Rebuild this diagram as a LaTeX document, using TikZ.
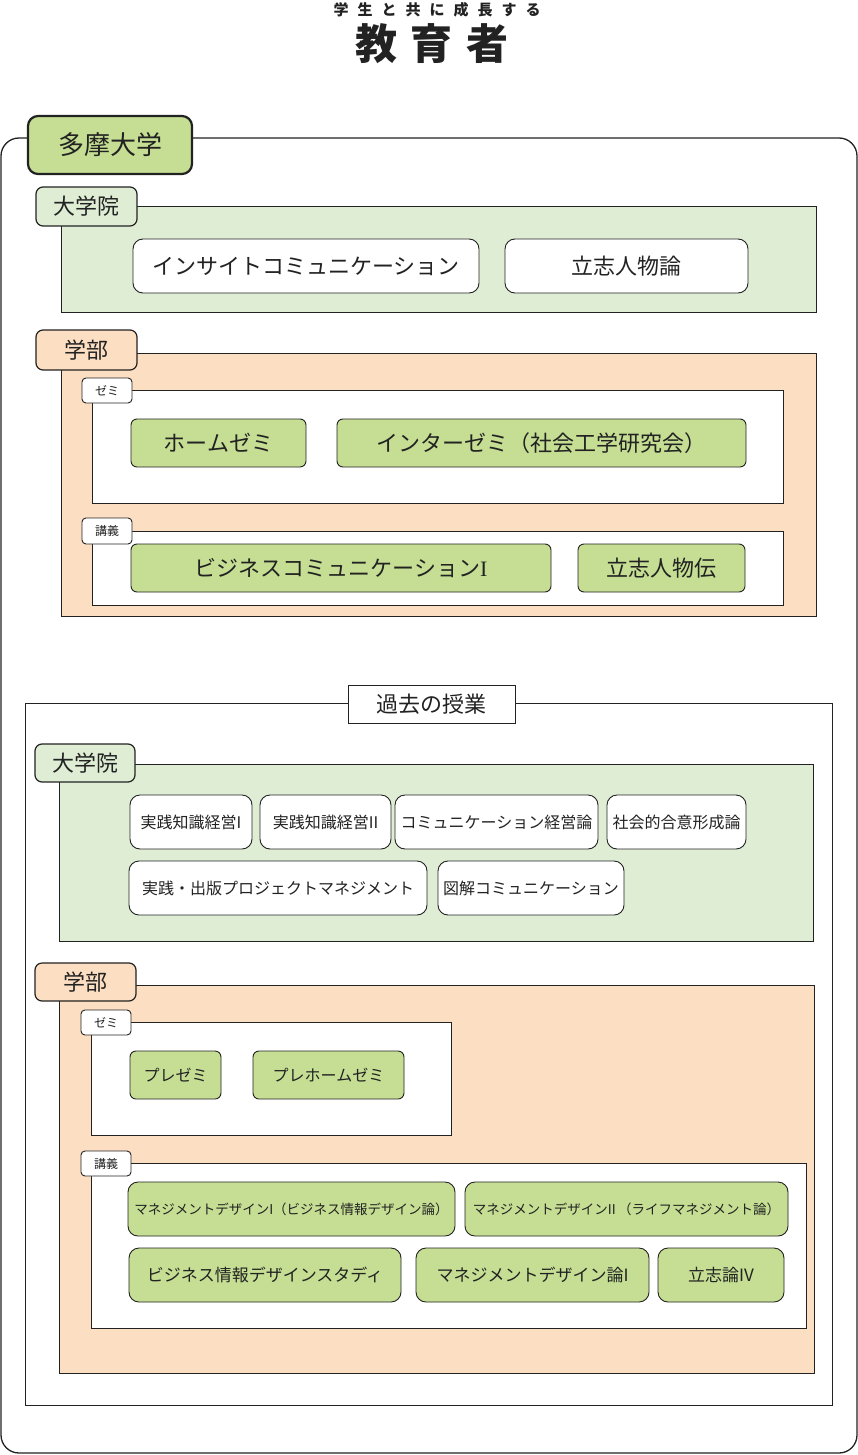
\documentclass[tikz,border=0pt]{standalone}
\usepackage{fontspec}
\setmainfont{Noto Sans CJK JP}
\definecolor{lgreen}{HTML}{DEEDD4}
\definecolor{peach}{HTML}{FCDEC2}
\definecolor{mgreen}{HTML}{C5DE93}
\definecolor{ink}{HTML}{222222}
\newcommand\mybox[7]{\node[#2,minimum width={#5pt-#3pt},minimum height={#6pt-#4pt}] (#1) at ({(#3+#5)/2},{-(#4+#6)/2}) {#7};}
\newcommand\spc[1]{\hspace{#1}}
\begin{document}
\begin{tikzpicture}[x=1pt,y=1pt,
  every node/.style={inner sep=0pt,outer sep=0pt,text=ink},
  frame/.style={draw=ink,line width=1.3pt,rounded corners=18pt},
  maintab/.style={draw=ink,line width=2.2pt,fill=mgreen,rounded corners=10pt,font=\fontsize{26}{30}\selectfont},
  gradtab/.style={draw=ink,line width=1.2pt,fill=lgreen,rounded corners=7pt,font=\fontsize{22}{26}\selectfont},
  factab/.style={draw=ink,line width=1.2pt,fill=peach,rounded corners=7pt,font=\fontsize{22}{26}\selectfont},
  gradarea/.style={draw=ink,line width=1pt,fill=lgreen},
  facarea/.style={draw=ink,line width=1pt,fill=peach},
  whitearea/.style={draw=ink,line width=0.9pt,fill=white},
  pastframe/.style={draw=ink,line width=1pt},
  smalltab/.style={draw=ink,line width=0.9pt,fill=white,rounded corners=4pt,font=\fontsize{12}{14}\selectfont},
  wbox/.style={draw=ink,line width=0.9pt,fill=white,rounded corners=10pt},
  gbox/.style={draw=ink,line width=0.9pt,fill=mgreen,rounded corners=6pt},
  gboxr/.style={draw=ink,line width=0.9pt,fill=mgreen,rounded corners=10pt},
  fbig/.style={font=\fontsize{22}{26}\selectfont},
  fmid/.style={font=\fontsize{16}{19}\selectfont},
  fmidb/.style={font=\fontsize{17}{20}\selectfont},
  fsmall/.style={font=\fontsize{13.5}{16}\selectfont}]
\useasboundingbox (0,0) rectangle (858,-1455);
% title
\node[font=\fontsize{15}{18}\selectfont\bfseries] (sub) at (437,-10) {学\spc{9pt}生\spc{9pt}と\spc{9pt}共\spc{9pt}に\spc{9pt}成\spc{9pt}長\spc{9pt}す\spc{9pt}る};
\node[font=\fontsize{42}{48}\selectfont\bfseries] (ttl) at (432,-44) {教\spc{14pt}育\spc{14pt}者};
% outer frame
\mybox{outer}{frame}{1}{138}{857}{1453}{}
\mybox{tama}{maintab}{28}{116}{192}{174}{多摩大学}
% current graduate
\mybox{gA}{gradarea}{61}{207}{816}{312}{}
\mybox{gAt}{gradtab}{36}{187}{137}{226}{大学院}
\mybox{g1}{wbox,fbig}{133}{239}{479}{293}{インサイトコミュニケーション}
\mybox{g2}{wbox,fbig}{505}{239}{748}{293}{立志人物論}
% current faculty
\mybox{fA}{facarea}{61}{353}{816}{616}{}
\mybox{fAt}{factab}{36}{330}{137}{370}{学部}
\mybox{zA}{whitearea}{92}{390}{783}{503}{}
\mybox{zAt}{smalltab}{82}{378}{132}{403}{ゼミ}
\mybox{z1}{gbox,fbig}{131}{419}{306}{467}{ホームゼミ}
\mybox{z2}{gbox,fbig}{337}{419}{746}{467}{インターゼミ（社会工学研究会）}
\mybox{kA}{whitearea}{92}{531}{783}{605}{}
\mybox{kAt}{smalltab}{82}{518}{132}{544}{講義}
\mybox{k1}{gbox,fbig}{131}{544}{551}{592}{ビジネスコミュニケーション{\fontspec{Liberation Serif}I}}
\mybox{k2}{gbox,fbig}{578}{544}{745}{592}{立志人物伝}
% past
\mybox{past}{pastframe}{25}{703}{832}{1405}{}
\mybox{pastt}{pastframe,fill=white,fbig}{348}{685}{515}{723}{過去の授業}
\mybox{gB}{gradarea}{59}{764}{813}{941}{}
\mybox{gBt}{gradtab}{35}{744}{135}{782}{大学院}
\mybox{p1}{wbox,fmid}{130}{795}{252}{849}{実践知識経営I}
\mybox{p2}{wbox,fmid}{260}{795}{391}{849}{実践知識経営II}
\mybox{p3}{wbox,fmid}{395}{795}{598}{849}{コミュニケーション経営論}
\mybox{p4}{wbox,fmid}{607}{795}{746}{849}{社会的合意形成論}
\mybox{p5}{wbox,fmid}{129}{861}{427}{915}{実践・出版プロジェクトマネジメント}
\mybox{p6}{wbox,fmid}{438}{861}{624}{915}{図解コミュニケーション}
\mybox{fB}{facarea}{59}{985}{814}{1373}{}
\mybox{fBt}{factab}{35}{963}{136}{1001}{学部}
\mybox{zB}{whitearea}{91}{1022}{451}{1135}{}
\mybox{zBt}{smalltab}{81}{1010}{131}{1035}{ゼミ}
\mybox{q1}{gbox,fmid}{130}{1051}{221}{1099}{プレゼミ}
\mybox{q2}{gbox,fmid}{253}{1051}{404}{1099}{プレホームゼミ}
\mybox{kB}{whitearea}{91}{1163}{806}{1328}{}
\mybox{kBt}{smalltab}{81}{1151}{131}{1176}{講義}
\mybox{r1}{gboxr,fsmall}{128}{1182}{455}{1236}{マネジメントデザインI（ビジネス情報デザイン論）}
\mybox{r2}{gboxr,fsmall}{465}{1182}{788}{1236}{マネジメントデザインII\,（ライフマネジメント論）}
\mybox{r3}{gboxr,fmidb}{129}{1248}{401}{1302}{ビジネス情報デザインスタディ}
\mybox{r4}{gboxr,fmidb}{416}{1248}{649}{1302}{マネジメントデザイン論I}
\mybox{r5}{gboxr,fmidb}{658}{1248}{784}{1302}{立志論IV}
\end{tikzpicture}
\end{document}
